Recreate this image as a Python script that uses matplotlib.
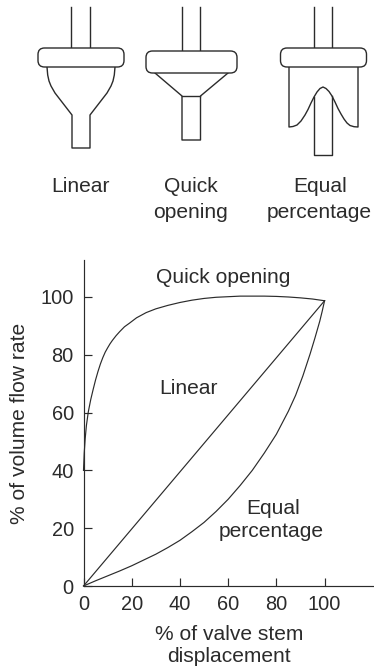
import matplotlib
matplotlib.use('Agg')
import matplotlib.pyplot as plt
from matplotlib.patches import FancyBboxPatch

plt.rcParams['font.family'] = ['Liberation Sans', 'DejaVu Sans']

INK = '#2b2b2b'
FS = 15.1
TICK_FS = 14.4
LW = 0.85
SKETCH_LW = 1.0

# curves
quick_x = [0, 0.3, 0.7, 1.2, 2, 3, 4, 5, 6, 7, 8, 9, 10, 11, 12, 13.5, 15, 17, 19, 22, 26, 30, 35, 40, 45, 50, 55, 60, 65, 70, 75, 80, 85, 90, 95, 100]
quick_y = [40, 46, 51, 55.5, 60.3, 64.5, 68, 71.3, 74.2, 76.8, 79, 80.9, 82.4, 83.8, 85, 86.6, 88, 89.7, 90.9, 92.8, 94.6, 95.9, 97.1, 98.1, 98.9, 99.5, 99.9, 100.1, 100.3, 100.3, 100.3, 100.2, 100, 99.7, 99.3, 98.7]
linear_x = [0, 100]
linear_y = [0, 98.7]
equal_x = [0, 5, 10, 15, 20, 25, 30, 35, 40, 45, 50, 55, 60, 65, 70, 75, 80, 85, 88, 91, 94, 96, 98, 99, 100]
equal_y = [0, 1.8, 3.5, 5.2, 7, 9, 11, 13.3, 15.8, 18.8, 22, 25.8, 30, 34.8, 40, 46, 52.5, 60.5, 66, 72.7, 80.3, 85.8, 91.6, 95, 98.7]

x_ticks = [0, 20, 40, 60, 80, 100]
y_ticks = [0, 20, 40, 60, 80, 100]

# valve plug outlines, in picture pixels
stem_tops = [(71.5, 90, 7, 48), (182, 200.5, 7, 51), (314, 332.5, 7, 48)]
bonnets = [(38, 48, 86, 19), (146, 51, 91, 22), (280.5, 48, 86, 19)]
linear_left = [(47, 67), (47.7, 75), (49, 81), (51, 86), (55, 93), (72, 115), (72, 148), (90, 148), (90, 115), (107, 93), (111, 86), (113, 81), (114.3, 75), (115, 67)]
quick_plug = [(155, 73), (182, 96), (182, 140), (200.5, 140), (200.5, 96), (228, 73)]
quick_seat = [(182, 96), (200.5, 96)]
equal_skirt = [(289, 67), (289, 127), (293, 126.5), (297, 125), (301, 121), (305, 115), (308, 109.5), (311, 103), (314, 97), (317, 92), (320, 88.5), (323, 87), (326, 88.5), (329, 91.5), (332, 96), (335, 102), (338, 108.5), (341, 114), (344, 119), (347, 123), (350, 125.5), (354, 126.7), (358, 127), (358, 67)]
equal_stem = [(314, 97), (314, 155), (332.5, 155), (332.5, 96)]

fig = plt.figure(figsize=(3.74, 6.69), dpi=100)

# top part: plug sketches, drawn in pixel coordinates
top = fig.add_axes([0, 0, 1, 1])
top.set_xlim(0, 374)
top.set_ylim(669, 0)
top.axis('off')

for x0, x1, y0, y1 in stem_tops:
    top.plot([x0, x0], [y0, y1], color=INK, lw=SKETCH_LW)
    top.plot([x1, x1], [y0, y1], color=INK, lw=SKETCH_LW)

for outline in [linear_left, quick_plug, quick_seat, equal_skirt, equal_stem]:
    top.plot([p[0] for p in outline], [p[1] for p in outline], color=INK, lw=SKETCH_LW)

for x, y, w, h in bonnets:
    top.add_patch(FancyBboxPatch((x + 6.5, y + 6.5), w - 13, h - 13,
                                 boxstyle='round,pad=6.5,rounding_size=6.5',
                                 fc='white', ec=INK, lw=SKETCH_LW, zorder=3))

top.text(81, 187, 'Linear', ha='center', va='center', fontsize=FS, color=INK)
top.text(191, 187, 'Quick', ha='center', va='center', fontsize=FS, color=INK)
top.text(191, 213, 'opening', ha='center', va='center', fontsize=FS, color=INK)
top.text(320, 187, 'Equal', ha='center', va='center', fontsize=FS, color=INK)
top.text(319, 213, 'percentage', ha='center', va='center', fontsize=FS, color=INK)

# bottom part: the flow chart
ax = fig.add_axes([83.5 / 374, 1 - 586 / 669, 290 / 374, 326 / 669])
ax.patch.set_alpha(0)
ax.set_xlim(0, 120.3)
ax.set_ylim(0, 112.8)
ax.spines['top'].set_visible(False)
ax.spines['right'].set_visible(False)
ax.spines['left'].set_color(INK)
ax.spines['bottom'].set_color(INK)
ax.spines['left'].set_linewidth(LW)
ax.spines['bottom'].set_linewidth(LW)

ax.plot(quick_x, quick_y, color=INK, lw=LW, clip_on=False)
ax.plot(linear_x, linear_y, color=INK, lw=LW, clip_on=False)
ax.plot(equal_x, equal_y, color=INK, lw=LW, clip_on=False)

ax.set_xticks(x_ticks)
ax.set_yticks(y_ticks)
ax.tick_params(axis='both', direction='in', length=6, width=LW, color=INK,
               labelcolor=INK, labelsize=TICK_FS)
ax.tick_params(axis='x', pad=6.5)
ax.tick_params(axis='y', pad=7)

ax.text(58, 106.9, 'Quick opening', ha='center', va='center', fontsize=FS, color=INK)
ax.text(43.5, 68.5, 'Linear', ha='center', va='center', fontsize=FS, color=INK)
ax.text(78.5, 26.9, 'Equal', ha='center', va='center', fontsize=FS, color=INK)
ax.text(78, 18.9, 'percentage', ha='center', va='center', fontsize=FS, color=INK)

top.text(229, 634, '% of valve stem', ha='center', va='center', fontsize=FS, color=INK)
top.text(229, 657, 'displacement', ha='center', va='center', fontsize=FS, color=INK)
top.text(20, 423, '% of volume flow rate', ha='center', va='center', rotation=90, fontsize=FS, color=INK)

fig.savefig('out.png', dpi=100)
